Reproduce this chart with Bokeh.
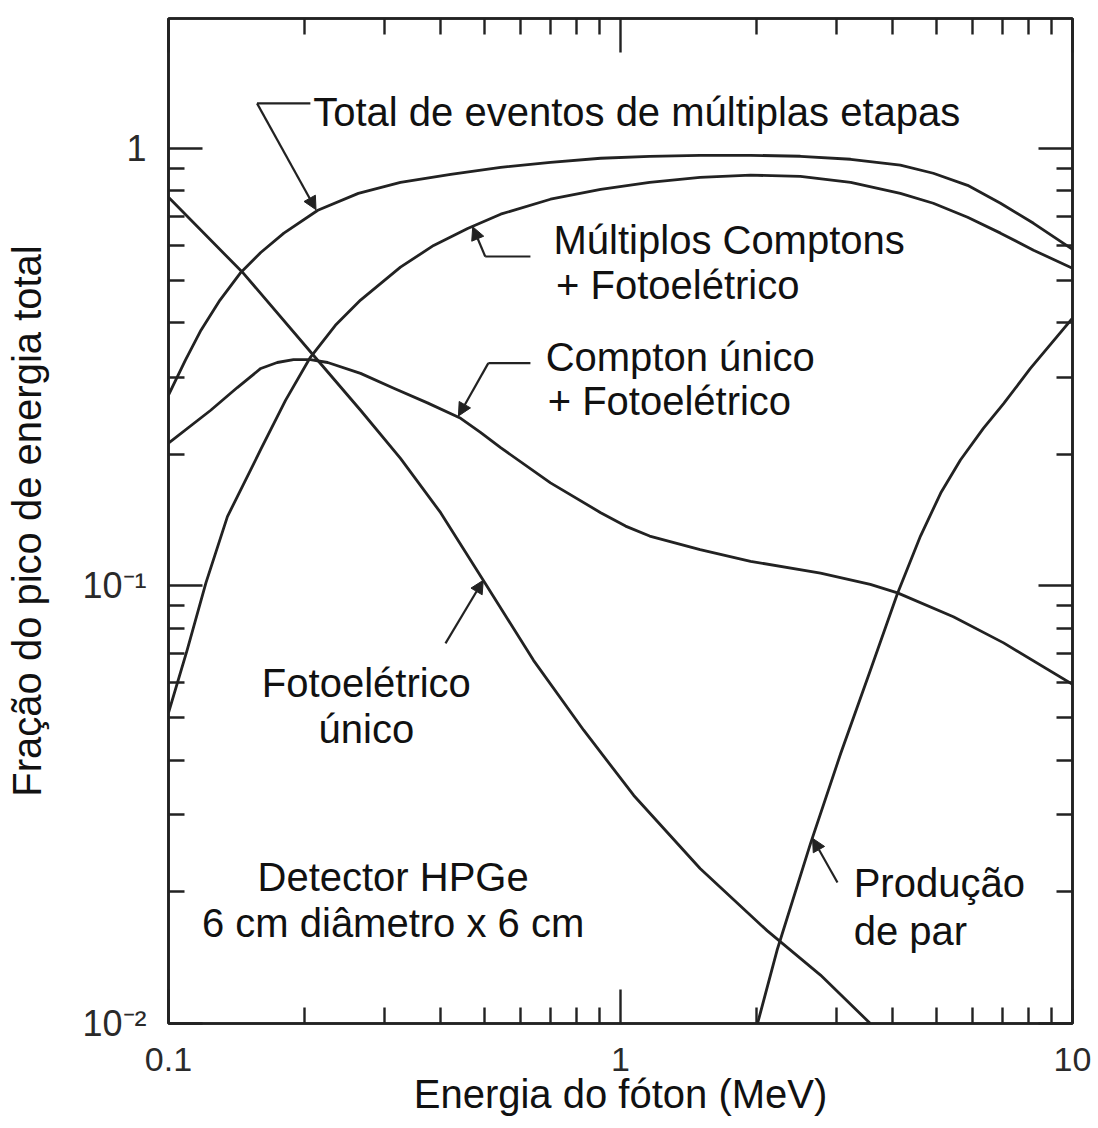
import numpy as np
from bokeh.plotting import figure
from bokeh.models import FixedTicker, LogAxis, Label, Arrow, NormalHead, Range1d
from bokeh.embed import file_html
from bokeh.resources import INLINE

# Photon energy (MeV) and fraction of the full-energy peak, per interaction history
total_energy = [0.10, 0.109, 0.118, 0.130, 0.144, 0.160, 0.180, 0.214, 0.263, 0.326, 0.421, 0.543, 0.70,
                0.904, 1.16, 1.50, 1.94, 2.50, 3.23, 4.16, 4.92, 5.86, 6.93, 8.20, 10.0]
total_frac = [0.273, 0.328, 0.384, 0.450, 0.518, 0.578, 0.640, 0.722, 0.789, 0.836, 0.872, 0.905, 0.929,
              0.949, 0.959, 0.964, 0.964, 0.959, 0.944, 0.915, 0.877, 0.823, 0.749, 0.674, 0.588]

multi_energy = [0.10, 0.110, 0.121, 0.135, 0.160, 0.1815, 0.206, 0.234, 0.266, 0.326, 0.386, 0.459, 0.543,
                0.70, 0.904, 1.16, 1.50, 1.94, 2.50, 3.23, 4.16, 4.92, 5.86, 6.93, 8.20, 10.0]
multi_frac = [0.0513, 0.0714, 0.1016, 0.144, 0.205, 0.2655, 0.333, 0.394, 0.450, 0.535, 0.600, 0.656, 0.707,
              0.765, 0.806, 0.836, 0.858, 0.868, 0.863, 0.836, 0.789, 0.749, 0.696, 0.640, 0.585, 0.532]

single_energy = [0.10, 0.124, 0.142, 0.160, 0.174, 0.189, 0.206, 0.225, 0.266, 0.315, 0.374, 0.443, 0.490,
                 0.543, 0.70, 0.904, 1.026, 1.16, 1.50, 1.94, 2.77, 3.57, 4.10, 5.45, 7.04, 10.0]
single_frac = [0.212, 0.252, 0.284, 0.314, 0.324, 0.329, 0.329, 0.324, 0.306, 0.283, 0.262, 0.2415, 0.2244,
               0.207, 0.172, 0.147, 0.137, 0.130, 0.121, 0.1138, 0.107, 0.1008, 0.0964, 0.0850, 0.0741, 0.0596]

photo_energy = [0.10, 0.1465, 0.209, 0.266, 0.326, 0.400, 0.497, 0.642, 0.829, 1.07, 1.50, 2.11, 2.77, 3.57]
photo_frac = [0.773, 0.518, 0.337, 0.252, 0.1956, 0.147, 0.103, 0.0676, 0.0468, 0.0332, 0.0226, 0.0163, 0.0129, 0.0100]

pair_energy = [2.01, 2.22, 2.63, 3.07, 3.57, 4.10, 4.61, 5.11, 5.65, 6.35, 7.04, 8.07, 10.0]
pair_frac = [0.0100, 0.0147, 0.0257, 0.0414, 0.0641, 0.0961, 0.130, 0.163, 0.194, 0.229, 0.261, 0.314, 0.409]

# Ticks and their labels
x_major = [0.1, 1.0, 10.0]
x_minor = [0.2, 0.3, 0.4, 0.5, 0.6, 0.7, 0.8, 0.9, 2, 3, 4, 5, 6, 7, 8, 9]
x_labels = ["0.1", "1", "10"]
y_major = [0.01, 0.1, 1.0]
y_minor = [0.02, 0.03, 0.04, 0.05, 0.06, 0.07, 0.08, 0.09, 0.2, 0.3, 0.4, 0.5, 0.6, 0.7, 0.8, 0.9]
y_labels = ["10\u207b\u00b2", "10\u207b\u00b9", "1"]

INK = "#222222"
TEXT = "#111111"
FONT = "Liberation Sans"
ANNOT_SIZE = "40px"

p = figure(width=1098, height=1128, x_axis_type="log", y_axis_type="log",
           x_range=Range1d(0.1, 10), y_range=Range1d(0.01, 1.98),
           output_backend="svg", toolbar_location=None,
           min_border_left=168, min_border_right=26, min_border_top=18, min_border_bottom=105)
p.grid.visible = False
p.background_fill_color = "white"
p.border_fill_color = "white"
p.outline_line_color = INK
p.outline_line_width = 2.6

# mirrored axes on top and right carry ticks only
top_axis = LogAxis(ticker=FixedTicker(ticks=x_major, minor_ticks=x_minor),
                   major_label_overrides={t: "" for t in x_major})
right_axis = LogAxis(ticker=FixedTicker(ticks=y_major, minor_ticks=y_minor),
                     major_label_overrides={t: "" for t in y_major})
p.add_layout(top_axis, "above")
p.add_layout(right_axis, "right")

p.below[0].ticker = FixedTicker(ticks=x_major, minor_ticks=x_minor)
p.left[0].ticker = FixedTicker(ticks=y_major, minor_ticks=y_minor)

for ax in p.axis:
    ax.axis_line_color = INK
    ax.axis_line_width = 2.6
    ax.major_tick_line_color = INK
    ax.minor_tick_line_color = INK
    ax.major_tick_line_width = 2.4
    ax.minor_tick_line_width = 2.4
    ax.major_tick_in = 34
    ax.major_tick_out = 0
    ax.minor_tick_in = 16
    ax.minor_tick_out = 0
    ax.major_label_text_font = FONT
    ax.major_label_text_color = "#2a2a2a"
    ax.major_label_text_font_size = "34px"

bottom, left = p.below[0], p.left[0]
bottom.major_label_overrides = dict(zip(x_major, x_labels))
bottom.major_label_standoff = 24
bottom.axis_label = "Energia do fóton (MeV)"
bottom.axis_label_standoff = -2
left.major_label_overrides = dict(zip(y_major, y_labels))
left.major_label_standoff = 22
left.major_label_text_font_size = "36px"
left.axis_label = "Fração do pico de energia total"
left.axis_label_standoff = 30
for ax in (bottom, left):
    ax.axis_label_text_font = FONT
    ax.axis_label_text_font_size = ANNOT_SIZE
    ax.axis_label_text_font_style = "normal"
    ax.axis_label_text_color = TEXT

for ax in (top_axis, right_axis):
    ax.major_label_standoff = 0
    ax.major_label_text_font_size = "2px"
    ax.major_label_text_alpha = 0

# curves
for xs, ys in [(total_energy, total_frac), (multi_energy, multi_frac),
               (single_energy, single_frac), (photo_energy, photo_frac),
               (pair_energy, pair_frac)]:
    p.line(xs, ys, line_color=INK, line_width=2.8, line_join="round")


def label(x, y, text, align="left"):
    p.add_layout(Label(x=x, y=y, text=text, text_font=FONT, text_font_size=ANNOT_SIZE,
                       text_color=TEXT, text_align=align, text_baseline="alphabetic"))


def pointer(x0, y0, x1, y1, head=True):
    end = NormalHead(size=13, fill_color=INK, line_color=INK, line_width=1) if head else None
    p.add_layout(Arrow(x_start=x0, y_start=y0, x_end=x1, y_end=y1, end=end,
                       line_color=INK, line_width=2.2))


# curve annotations
label(0.209, 1.208, "Total de eventos de múltiplas etapas")
pointer(0.157, 1.267, 0.206, 1.267, head=False)
pointer(0.157, 1.267, 0.212, 0.724)

label(0.711, 0.616, "Múltiplos Comptons")
label(0.72, 0.486, "+ Fotoelétrico")
pointer(0.632, 0.566, 0.502, 0.566, head=False)
pointer(0.502, 0.566, 0.471, 0.662)

label(0.683, 0.333, "Compton único")
label(0.69, 0.264, "+ Fotoelétrico")
pointer(0.632, 0.323, 0.51, 0.323, head=False)
pointer(0.51, 0.323, 0.438, 0.2445)

label(0.274, 0.0599, "Fotoelétrico", align="center")
label(0.274, 0.0472, "único", align="center")
pointer(0.410, 0.0739, 0.497, 0.103)

label(0.314, 0.0216, "Detector HPGe", align="center")
label(0.314, 0.0170, "6 cm diâmetro x 6 cm", align="center")

label(3.28, 0.0209, "Produção")
label(3.28, 0.0163, "de par")
pointer(3.02, 0.0210, 2.66, 0.0265)

open("out.html", "w").write(file_html(p, INLINE))
